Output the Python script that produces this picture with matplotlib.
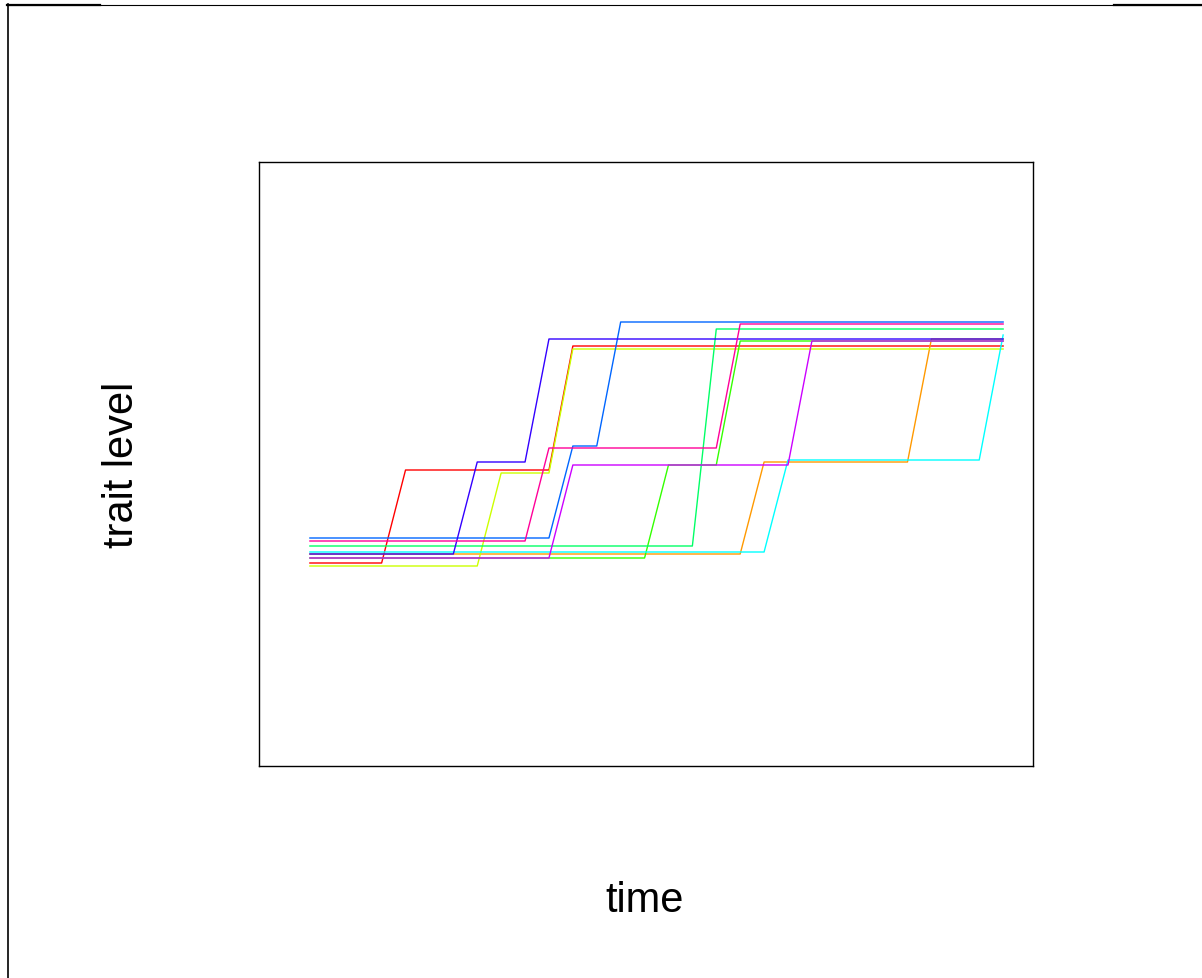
import numpy as np
import matplotlib
matplotlib.use("Agg")
import matplotlib.pyplot as plt
from matplotlib.lines import Line2D

plt.rcParams['font.family'] = ['Liberation Sans', 'DejaVu Sans']

# time points 0..29
n_times = 30
time = np.arange(n_times)

# lineages (R rainbow(10) order): trait levels and the time steps at which each jump starts
colors = ["#FF0000", "#FF9900", "#CCFF00", "#33FF00", "#00FF66",
          "#00FFFF", "#0066FF", "#3300FF", "#CC00FF", "#FF0099"]
levels = [
    [-0.08, 0.85, 2.09],   # red
    [0.01, 0.93, 2.16],    # orange
    [-0.11, 0.82, 2.06],   # yellow
    [-0.03, 0.90, 2.14],   # green
    [0.09, 2.26],          # spring green
    [0.03, 0.95, 2.20],    # cyan
    [0.17, 1.09, 2.33],    # azure
    [0.01, 0.93, 2.16],    # blue
    [-0.03, 0.90, 2.14],   # violet
    [0.14, 1.07, 2.31],    # pink
]
jump_starts = [
    [3, 10],
    [18, 25],
    [7, 10],
    [14, 17],
    [16],
    [19, 28],
    [10, 12],
    [6, 9],
    [10, 20],
    [9, 17],
]

def trajectory(lv, js):
    vals = np.empty(n_times)
    bounds = [0] + [j + 1 for j in js] + [n_times]
    for k, v in enumerate(lv):
        vals[bounds[k]:bounds[k + 1]] = v
    return vals

W, H = 1202, 979
fig = plt.figure(figsize=(W / 100, H / 100), dpi=100)
ax = fig.add_axes([259 / W, (H - 767) / H, 774 / W, 604 / H])

for c, lv, js in zip(colors, levels, jump_starts):
    ax.plot(time, trajectory(lv, js), color=c, lw=1.0)

ax.set_xlim(-2.13, 30.25)
ax.set_ylim(-2.11, 3.93)
ax.set_xticks([])
ax.set_yticks([])
for s in ax.spines.values():
    s.set_linewidth(1.0)
    s.set_color("black")

fig.text(645 / W, 1 - 901 / H, "time", ha="center", va="center", fontsize=30)
fig.text(122 / W, 1 - 465 / H, "trait level", ha="center", va="center",
         fontsize=30, rotation=90)

# frame fragments at the image edges
def fx(x):
    return x / W

def fy(y):
    return 1 - y / H

fig.add_artist(Line2D([fx(7), fx(1202)], [fy(5.5), fy(5.5)], color="black", lw=0.8))
fig.add_artist(Line2D([fx(7), fx(100)], [fy(6), fy(6)], color="black", lw=1.6))
fig.add_artist(Line2D([fx(1114), fx(1202)], [fy(6), fy(6)], color="black", lw=1.6))
fig.add_artist(Line2D([fx(7.5), fx(7.5)], [fy(5), fy(979)], color="black", lw=1.2))

fig.savefig("out.png", dpi=100, facecolor="white")
